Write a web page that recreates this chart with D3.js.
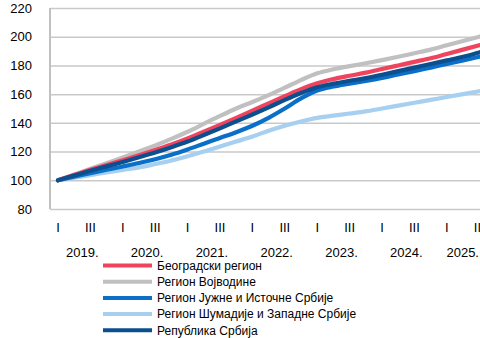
<!DOCTYPE html>
<html>
<head>
<meta charset="utf-8">
<script src="https://cdn.jsdelivr.net/npm/d3@7"></script>
<style>
  html, body { margin: 0; padding: 0; background: #fff; }
  svg { display: block; }
  text { font-family: "Liberation Sans", Arial, sans-serif; fill: #000; }
</style>
</head>
<body>
<div id="chart"></div>
<script>
// Quarterly index, 2019 Q1 = 100
const years = ["2019.", "2020.", "2021.", "2022.", "2023.", "2024.", "2025."];
const quarterLabels = ["I", "II", "III", "IV"];
const yTicks = [80, 100, 120, 140, 160, 180, 200, 220];

const seriesNames = [
  "Београдски регион",
  "Регион Војводине",
  "Регион Јужне и Источне Србије",
  "Регион Шумадије и Западне Србије",
  "Република Србија"
];
const seriesColors = ["#f0435e", "#c0c0c0", "#0a6fc8", "#a6cff0", "#0b4f8f"];

const beograd = [100, 103.7, 107.3, 110.7, 114, 117.5, 121.2, 125, 129.2, 133.8, 138.6, 143.5, 148.5, 153.6, 158.6, 163.5, 167.5, 170.5, 172.8, 175, 177.5, 180, 182.5, 185, 188, 191, 194, 197];
const vojvodina = [100, 104, 108, 111.8, 115.8, 120, 124.3, 128.8, 133.8, 139.3, 144.8, 150, 154.5, 159.3, 164.5, 169.8, 174.5, 177.3, 179.5, 181.5, 183.7, 186, 188.5, 191, 194, 197, 200, 203];
const jugIstok = [100, 102.5, 105, 107.3, 109.6, 112, 114.7, 117.8, 121.5, 125.5, 129.5, 133.5, 138, 143.5, 150, 157, 162.5, 165.3, 167.3, 169.2, 171.3, 173.7, 176, 178.5, 181, 183.5, 186, 189];
const sumadija = [100, 101.8, 103.6, 105.5, 107.3, 109, 111.3, 113.8, 116.8, 120, 123.5, 127, 130.5, 134.5, 138, 141, 143.5, 145, 146.5, 148, 150, 152, 154, 156, 158, 160, 162, 164];
const srbija = [100, 103.3, 106.6, 109.7, 112.8, 116, 119.3, 123, 127, 131.5, 136.2, 141, 145.8, 150.8, 156, 160.8, 164.8, 167.3, 169.3, 171.2, 173.5, 176, 178.5, 181, 183.5, 186, 189, 192];

// draw order: lighter/secondary lines first, republic on top
const drawOrder = [3, 2, 1, 0, 4];
const seriesData = [beograd, vojvodina, jugIstok, sumadija, srbija];

const W = 480, H = 338;
const plotLeft = 50, plotTop = 8, plotBottom = 209;
const nQ = beograd.length;

const svg = d3.select("#chart").append("svg")
  .attr("width", W).attr("height", H);

const x = d3.scaleLinear().domain([0, nQ - 1]).range([58, 58 + 16.2 * (nQ - 1)]);
const y = d3.scaleLinear().domain([80, 220]).range([plotBottom, plotTop]);
const plotRight = x(nQ - 1) + 10;

// horizontal gridlines + y labels
const yAxis = d3.axisLeft(y).tickValues(yTicks).tickSize(-(plotRight - plotLeft)).tickPadding(18);
const gy = svg.append("g").attr("transform", `translate(${plotLeft},0)`).call(yAxis);
gy.select(".domain").remove();
gy.selectAll(".tick line").attr("stroke", "#c9c9c9").attr("stroke-width", 1.5);
gy.selectAll(".tick text").attr("font-size", 13).attr("x", -18);

// left axis line
svg.append("line")
  .attr("x1", plotLeft).attr("x2", plotLeft)
  .attr("y1", y(220)).attr("y2", y(80))
  .attr("stroke", "#c0c0c0").attr("stroke-width", 2);

// quarter labels (I and III)
const qIdx = d3.range(nQ).filter(i => i % 4 === 0 || i % 4 === 2);
svg.append("g").selectAll("text").data(qIdx).join("text")
  .attr("x", i => x(i)).attr("y", 232)
  .attr("text-anchor", "middle").attr("font-size", 13)
  .text(i => quarterLabels[i % 4]);

// year labels centred on each year, kept inside the right edge
svg.append("g").selectAll("text").data(years).join("text")
  .attr("y", 257)
  .attr("text-anchor", "middle").attr("font-size", 13)
  .text(d => d)
  .attr("x", function (d, k) {
    const cx = x(k * 4 + 1.5);
    const half = this.getComputedTextLength() / 2;
    return Math.min(cx, W - 1 - half);
  });

// lines
const line = d3.line()
  .x((d, i) => x(i))
  .y(d => y(d))
  .curve(d3.curveMonotoneX);

svg.append("g").selectAll("path").data(drawOrder).join("path")
  .attr("d", k => line(seriesData[k]))
  .attr("fill", "none")
  .attr("stroke", k => seriesColors[k])
  .attr("stroke-width", 4.2)
  .attr("stroke-linecap", "round")
  .attr("stroke-linejoin", "round");

// legend
const lg = svg.append("g");
const rows = lg.selectAll("g").data(seriesNames).join("g")
  .attr("transform", (d, i) => `translate(103,${265.5 + i * 16.2})`);
rows.append("line")
  .attr("x1", 0).attr("x2", 49).attr("y1", 0).attr("y2", 0)
  .attr("stroke", (d, i) => seriesColors[i]).attr("stroke-width", 4);
rows.append("text")
  .attr("x", 54).attr("y", 0).attr("dy", "0.35em")
  .attr("font-size", 12)
  .text(d => d);
</script>
</body>
</html>
